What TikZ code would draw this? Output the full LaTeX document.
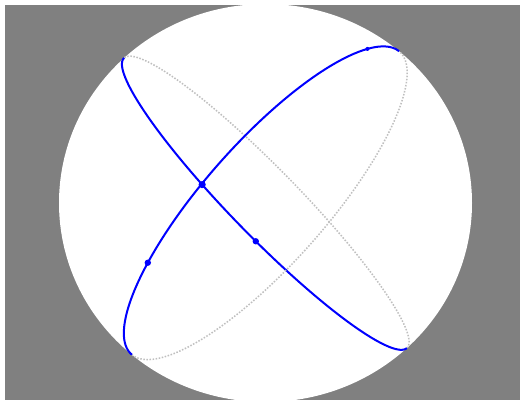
\documentclass[tikz,border=0pt]{standalone}
\usepackage{tikz}

\begin{document}
\begin{tikzpicture}[x=0.5pt, y=0.5pt,
  front/.style={blue, line width=1pt},
  back/.style={gray!50, line width=0.75pt, dash pattern=on 0.75pt off 0.8pt},
  dot/.style={circle, fill=blue, inner sep=0pt, minimum size=#1},
  dot/.default=3.2pt]
\useasboundingbox (0,0) rectangle (520,400);
\clip (0,0) rectangle (520,400);
\fill[white] (0,0) rectangle (520,400);
\fill[gray] (5,0) rectangle (520,395);
\fill[white] (265.5,197) ellipse[x radius=206.5, y radius=199];
% unit sphere, seen a little squeezed
\begin{scope}[shift={(265.5,197)}, xscale=206.5, yscale=199]
  % first great circle
  \begin{scope}[rotate=133.2]
    \draw[back] plot[domain=180:360, samples=121, smooth] ({cos(\x)}, {0.167*sin(\x)});
    \draw[front] plot[domain=0:180, samples=121, smooth] ({cos(\x)}, {0.167*sin(\x)});
    \coordinate (cross) at ({cos(73.9)}, {0.167*sin(73.9)});
    \coordinate (p1) at ({cos(96.2)}, {0.167*sin(96.2)});
  \end{scope}
  % second great circle
  \begin{scope}[rotate=49.7]
    \draw[back] plot[domain=180:360, samples=121, smooth] ({cos(\x)}, {0.30*sin(\x)});
    \draw[front] plot[domain=0:180, samples=121, smooth] ({cos(\x)}, {0.30*sin(\x)});
    \coordinate (p2) at ({cos(126.7)}, {0.30*sin(126.7)});
    \coordinate (p3) at ({cos(24.5)}, {0.30*sin(24.5)});
  \end{scope}
\end{scope}
\node[dot=3.6pt] (a) at (cross) {};
\node[dot] (b) at (p1) {};
\node[dot] (c) at (p2) {};
\node[dot=2pt] (d) at (p3) {};
\end{tikzpicture}
\end{document}
